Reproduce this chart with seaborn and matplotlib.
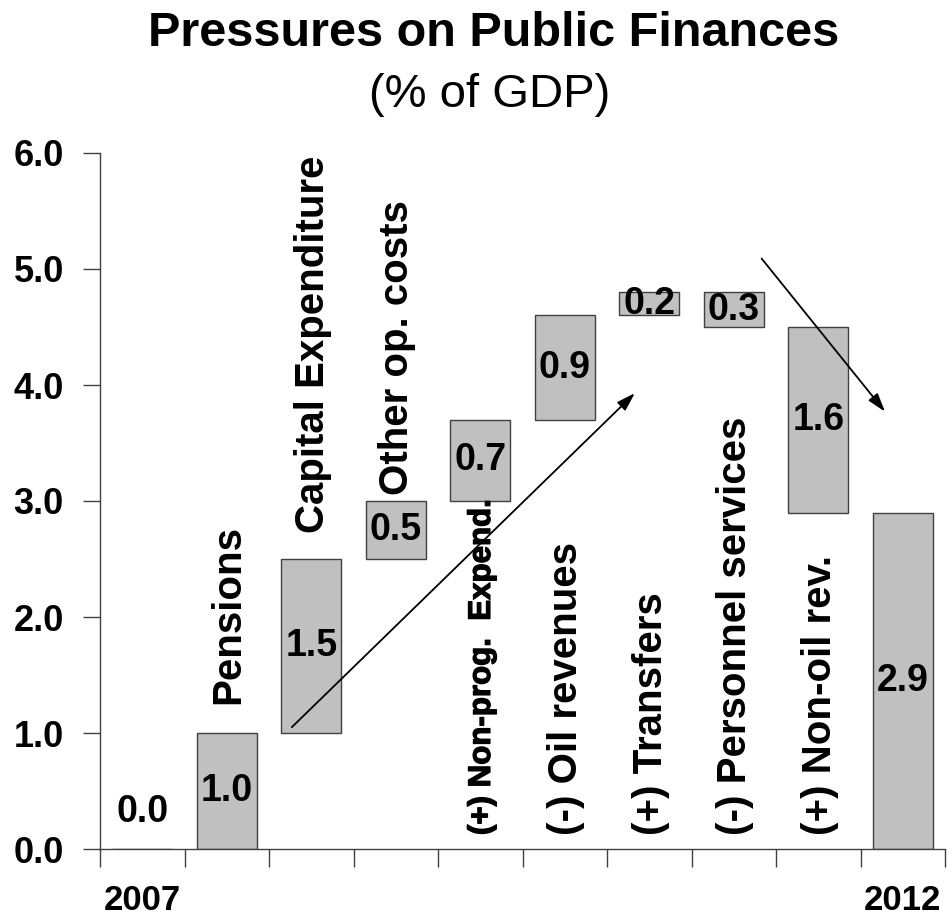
import matplotlib
matplotlib.use("Agg")
import matplotlib.pyplot as plt
import matplotlib.patheffects as pe
import seaborn as sns
import pandas as pd

# Waterfall of fiscal pressures, 2007 -> 2012 (% of GDP)
categories = ["2007", "Pensions", "Capital Expenditure", "Other op. costs",
              "(+) Non-prog.  Expend.", "(-) Oil revenues", "(+) Transfers",
              "(-) Personnel services", "(+) Non-oil rev.", "2012"]
changes = [0.0, 1.0, 1.5, 0.5, 0.7, 0.9, 0.2, -0.3, -1.6, 2.9]
value_labels = ["0.0", "1.0", "1.5", "0.5", "0.7", "0.9", "0.2", "0.3", "1.6", "2.9"]

# running level before each step; first and last bars start at zero
bases = []
level = 0.0
for i, c in enumerate(changes):
    if i == 0 or i == len(changes) - 1:
        bases.append(0.0)
        level = c
    else:
        bases.append(level if c >= 0 else level + c)
        level += c
heights = [abs(c) for c in changes]

# where each rotated category name begins (bottom of the text, data units)
name_start = [None, 1.25, 2.72, 3.05, 0.12, 0.12, 0.12, 0.12, 0.12, None]
name_size = [None, 29, 29, 29, 22.5, 29, 29, 29, 29, None]

# trend arrows: (start, end)
arrows = [((1.77, 1.05), (5.83, 3.93)), ((7.33, 5.09), (8.79, 3.77))]

sns.set_style("white")
plt.rcParams["font.family"] = ["Liberation Sans", "DejaVu Sans"]
plt.rcParams["text.color"] = "black"
plt.rcParams["xtick.color"] = "#404040"
plt.rcParams["ytick.color"] = "#404040"
plt.rcParams["xtick.labelcolor"] = "black"
plt.rcParams["ytick.labelcolor"] = "black"

fig = plt.figure(figsize=(9.52, 9.21), dpi=100)
ax = fig.add_axes([100 / 952, 72 / 921, 845 / 952, 696 / 921])

df = pd.DataFrame({"cat": categories, "h": heights, "b": bases})
sns.barplot(data=df, x="cat", y="h", order=categories, bottom=bases,
            color="#c0c0c0", saturation=1, width=0.71, errorbar=None,
            edgecolor="#404040", linewidth=1.0, ax=ax)

# value labels centred in each bar (first one sits above the axis)
for i, (b, h, lab) in enumerate(zip(bases, heights, value_labels)):
    y = b + h / 2 if h > 0 else 0.32
    ax.text(i, y, lab, ha="center", va="center", fontsize=27,
            fontweight="bold", color="black")

# rotated category names
for i, (name, y0, fs) in enumerate(zip(categories, name_start, name_size)):
    if y0 is None:
        continue
    t = ax.text(i + 0.02, y0, name, rotation=90, ha="center", va="bottom",
                fontsize=fs, fontweight="bold", color="black")
    if fs < 29:
        # the smaller label gets a thin outline so its strokes stay heavy
        t.set_path_effects([pe.withStroke(linewidth=0.9, foreground="black")])

for start, end in arrows:
    ax.annotate("", xy=end, xytext=start,
                arrowprops=dict(arrowstyle="-|>,head_length=0.7,head_width=0.22",
                                color="black", lw=1.3,
                                mutation_scale=16, shrinkA=0, shrinkB=0))

# year labels under the end bars
for i in (0, len(categories) - 1):
    ax.text(i, -0.44, categories[i], ha="center", va="center", fontsize=25,
            fontweight="bold", clip_on=False)

ax.set_xlim(-0.5, len(categories) - 0.5)
ax.set_ylim(0, 6)
ax.set_yticks([0, 1, 2, 3, 4, 5, 6])
ax.set_yticklabels([f"{v:.1f}" for v in range(7)], fontsize=26, fontweight="bold")
ax.set_xticks([i - 0.5 for i in range(len(categories) + 1)])
ax.set_xticklabels([])
ax.set_xlabel("")
ax.set_ylabel("")
ax.tick_params(axis="y", direction="out", length=12, width=1.0,
               pad=14, left=True)
ax.tick_params(axis="x", direction="out", length=13, width=1.0, bottom=True)
for side in ("top", "right"):
    ax.spines[side].set_visible(False)
for side in ("left", "bottom"):
    ax.spines[side].set_color("#404040")
    ax.spines[side].set_linewidth(1.0)

fig.text(0.518, 1 - 46 / 921, "Pressures on Public Finances", ha="center",
         va="baseline", fontsize=35, fontweight="bold")
fig.text(0.514, 1 - 107 / 921, "(% of GDP)", ha="center", va="baseline",
         fontsize=34)

fig.savefig("out.png", dpi=100, facecolor="white")
